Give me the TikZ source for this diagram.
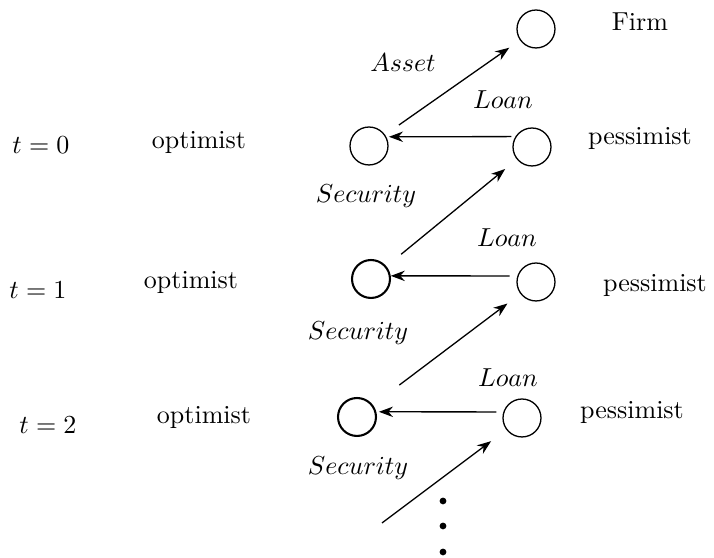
\documentclass[tikz,border=0pt]{standalone}
\usepackage{amsmath,amssymb}
\usepackage{tikz}
\usetikzlibrary{arrows.meta}

\begin{document}
\begin{tikzpicture}[x=0.3846pt,y=-0.3846pt,>={Stealth[length=5.4pt,width=4pt]},line width=0.5pt,
    agent/.style={draw,circle,minimum size=14.6pt,inner sep=0pt}]
  \useasboundingbox (0,0) rectangle (714,558);
  % firm
  \node[agent] (firm) at (536,29) {};
  \node (firmlbl) at (640,22) {Firm};
  % period 0
  \node (t0) at (41,145) {$t=0$};
  \node (opt0) at (199,142) {optimist};
  \node[agent] (o0) at (369,146) {};
  \node[agent] (p0) at (532,147) {};
  \node (pes0) at (640,138) {pessimist};
  % period 1
  \node (t1) at (38,290) {$t=1$};
  \node (opt1) at (191,282) {optimist};
  \node[agent,thick] (o1) at (371,279) {};
  \node[agent] (p1) at (536,282) {};
  \node (pes1) at (655,285) {pessimist};
  % period 2
  \node (t2) at (48,425) {$t=2$};
  \node (opt2) at (204,417) {optimist};
  \node[agent,thick] (o2) at (357,417) {};
  \node[agent] (p2) at (522,418) {};
  \node (pes2) at (632,412) {pessimist};
  \coordinate (s3) at (382,523);
  % flows
  \draw[->,shorten <=6.5pt,shorten >=5pt] (o0) -- (firm);
  \node at (403,63) {$Asset$};
  \draw[->,shorten <=1.5pt,shorten >=1pt] (p0.148) -- (o0.28);
  \node at (503,100) {$Loan$};
  \draw[->,shorten <=7.3pt,shorten >=5.8pt] (o1) -- (p0);
  \node at (366,196) {$Security$};
  \draw[->,shorten <=3pt] (p1.162) -- (o1.9);
  \node at (507,238) {$Loan$};
  \draw[->,shorten <=12.7pt,shorten >=6.2pt] (o2) -- (p1);
  \node at (358,333) {$Security$};
  \draw[->,shorten <=2.7pt,shorten >=1pt] (p2.162) -- (o2.15);
  \node at (508,378) {$Loan$};
  \draw[->,shorten >=7.3pt] (s3) -- (p2);
  \node at (358,468) {$Security$};
  % continuation
  \foreach \y in {501,526,552}
    \fill (443,\y) circle (1.3pt);
\end{tikzpicture}
\end{document}
